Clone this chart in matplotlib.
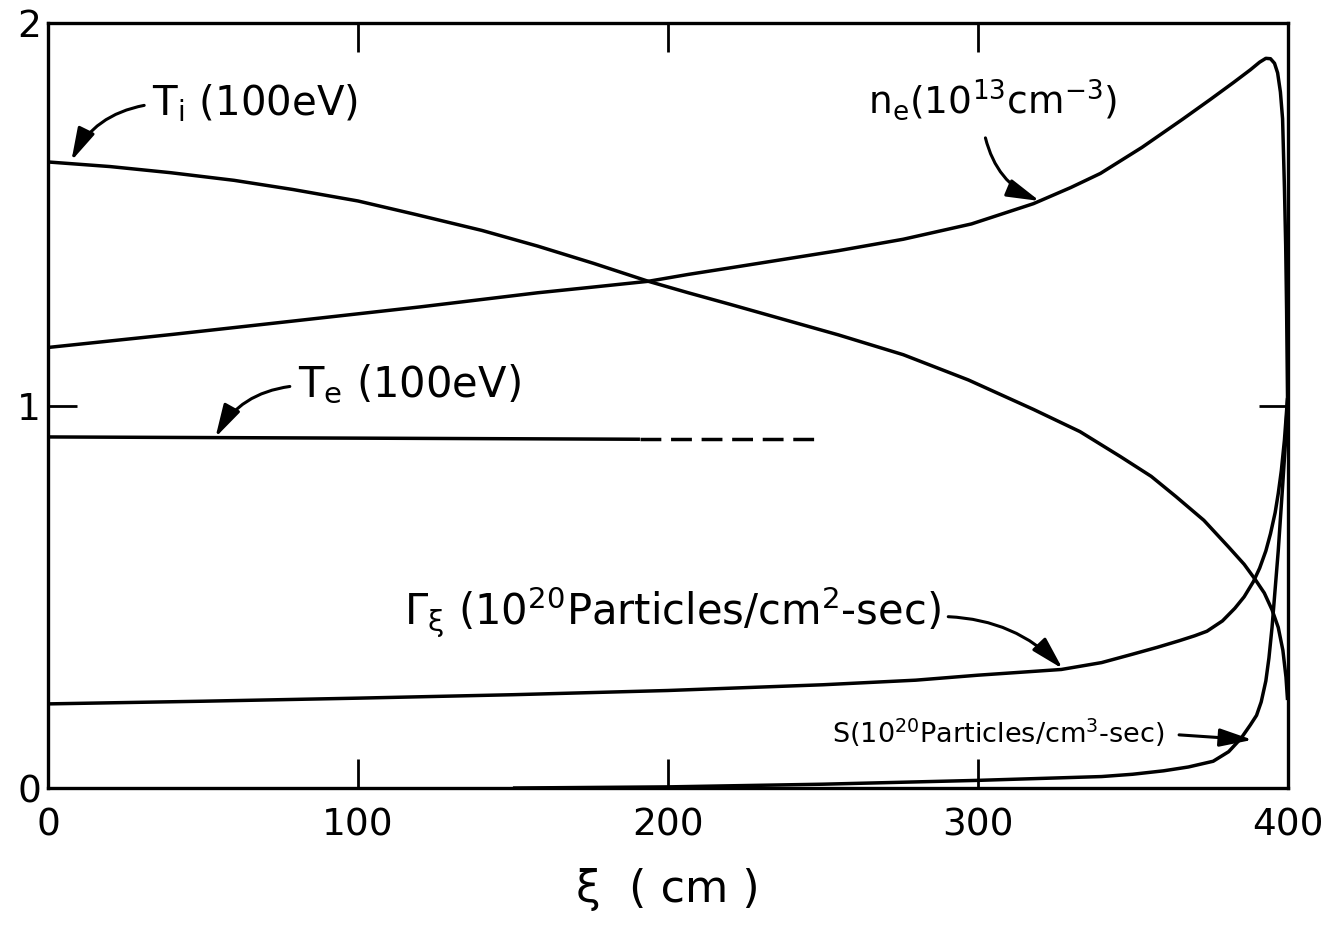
import numpy as np
import matplotlib.pyplot as plt

plt.rcParams['font.family'] = ['DejaVu Sans']
plt.rcParams['mathtext.default'] = 'regular'

# values (xi in cm)
ti_x = [0, 20, 39.5, 60, 79, 100, 118.5, 140, 158, 176, 193.7, 206.6, 220, 234, 255, 276,
        297, 318, 333, 346, 356, 364, 373, 381, 386, 389.6, 392.5, 395, 397, 398.5, 399.5, 400]
ti_y = [1.637, 1.625, 1.609, 1.589, 1.565, 1.535, 1.50, 1.458, 1.417, 1.372, 1.325, 1.295,
        1.265, 1.233, 1.185, 1.133, 1.067, 0.99, 0.932, 0.867, 0.815, 0.762, 0.70, 0.63,
        0.585, 0.545, 0.51, 0.466, 0.42, 0.36, 0.29, 0.23]

ne_x = [0, 40, 79, 120, 158, 176, 193.7, 206.6, 220, 234, 255, 276, 298, 318, 330, 339.6,
        353, 366, 375, 382.6, 388, 391, 393, 394.5, 395.8, 396.8, 397.7, 398.4, 399,
        399.4, 399.7, 400]
ne_y = [1.152, 1.186, 1.221, 1.258, 1.295, 1.31, 1.325, 1.343, 1.36, 1.378, 1.405, 1.435,
        1.475, 1.528, 1.57, 1.607, 1.675, 1.748, 1.80, 1.845, 1.878, 1.898, 1.908, 1.907,
        1.895, 1.87, 1.82, 1.75, 1.57, 1.42, 1.25, 1.02]

te_solid_x = [0, 191]
te_solid_y = [0.918, 0.912]
te_dash_x = [191, 248]
te_dash_y = [0.912, 0.912]

gam_x = [0, 50, 100, 150, 200, 250, 280, 300, 327, 340, 350, 358, 365, 370, 374, 379, 383,
         386, 389, 391, 393, 394.5, 396, 397, 398, 399, 400]
gam_y = [0.22, 0.227, 0.235, 0.244, 0.255, 0.27, 0.282, 0.295, 0.31, 0.328, 0.35, 0.368,
         0.385, 0.398, 0.41, 0.437, 0.47, 0.50, 0.54, 0.575, 0.62, 0.665, 0.72, 0.77,
         0.83, 0.91, 1.02]

s_x = [150, 200, 250, 300, 320, 340, 350, 360, 368, 376, 381, 385, 388, 390, 391.5, 393,
       394, 395, 396, 397, 398.5, 399.3, 400]
s_y = [0.0, 0.003, 0.01, 0.02, 0.025, 0.03, 0.036, 0.045, 0.055, 0.07, 0.095, 0.13, 0.165,
       0.19, 0.225, 0.28, 0.34, 0.42, 0.52, 0.62, 0.8, 0.9, 1.02]

xticks = [0, 100, 200, 300, 400]
yticks = [0, 1, 2]

fig = plt.figure(figsize=(13.37, 9.26), dpi=100)
ax = fig.add_axes([0.036, 0.149, 0.927, 0.826])

lw = 2.5
for xs, ys in [(ti_x, ti_y), (ne_x, ne_y), (gam_x, gam_y), (s_x, s_y), (te_solid_x, te_solid_y)]:
    ax.plot(xs, ys, color='black', lw=lw, solid_capstyle='butt', solid_joinstyle='round')
ax.plot(te_dash_x, te_dash_y, color='black', lw=lw, dashes=(6, 2.8))

ax.set_xlim(0, 400)
ax.set_ylim(0, 2)
ax.set_xticks(xticks)
ax.set_yticks(yticks)
ax.set_xticklabels([str(v) for v in xticks])
ax.set_yticklabels([str(v) for v in yticks])
ax.tick_params(direction='in', length=21, width=2, top=True, right=True,
               labelsize=27, pad=5)
ax.tick_params(axis='x', pad=14)
for sp in ax.spines.values():
    sp.set_linewidth(2.4)

ax.set_xlabel('ξ  ( cm )', fontsize=32, labelpad=18)

arrow = dict(arrowstyle='-|>,head_length=2.0,head_width=0.55', color='black', lw=2.2,
             shrinkA=0, shrinkB=0)

ax.text(33.5, 1.79, r'T$_{i}$ (100eV)', fontsize=29, va='center', ha='left')
ax.annotate('', xy=(7.5, 1.64), xytext=(31, 1.785),
            arrowprops=dict(arrow, connectionstyle='arc3,rad=0.25'))

ax.text(80.5, 1.055, r'T$_{e}$ (100eV)', fontsize=30, va='center', ha='left')
ax.annotate('', xy=(54, 0.917), xytext=(78, 1.05),
            arrowprops=dict(arrow, connectionstyle='arc3,rad=0.25'))

ax.text(264.5, 1.80, r'n$_{e}$(10$^{13}$cm$^{-3}$)', fontsize=27, va='center', ha='left')
ax.annotate('', xy=(320, 1.535), xytext=(302.5, 1.70),
            arrowprops=dict(arrow, connectionstyle='arc3,rad=0.25'))

ax.text(115, 0.46, r'$\Gamma_{\xi}$ (10$^{20}$Particles/cm$^{2}$-sec)', fontsize=30,
        va='center', ha='left')
ax.annotate('', xy=(327.4, 0.312), xytext=(290.5, 0.448),
            arrowprops=dict(arrow, connectionstyle='arc3,rad=-0.2'))

ax.text(253, 0.145, r'S(10$^{20}$Particles/cm$^{3}$-sec)', fontsize=19.5,
        va='center', ha='left')
ax.annotate('', xy=(388.7, 0.126), xytext=(365, 0.139),
            arrowprops=dict(arrow, connectionstyle='arc3,rad=0'))

fig.savefig('out.png', dpi=100)
